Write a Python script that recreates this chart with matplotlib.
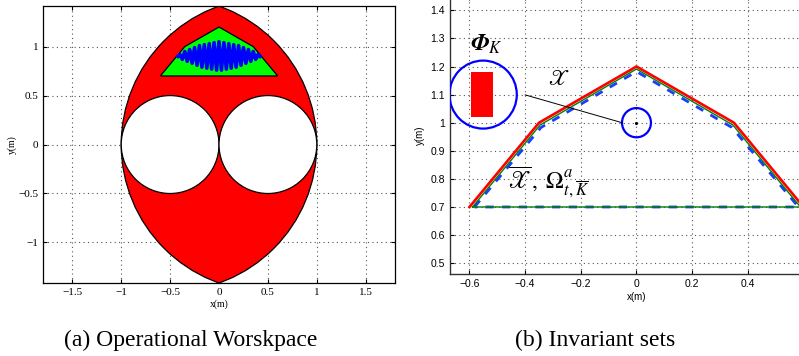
import numpy as np
import matplotlib
matplotlib.use('Agg')
import matplotlib.pyplot as plt
from matplotlib.patches import Circle, Polygon, Rectangle
from matplotlib.ticker import FuncFormatter

# 工作空间：两个半径1.5的圆相交，去掉两个半径0.5的圆
outer_centers = [(-0.5, 0.0), (0.5, 0.0)]
outer_r = 1.5
hole_centers = [(-0.5, 0.0), (0.5, 0.0)]
hole_r = 0.5

# 不变集多边形顶点
poly_x = [-0.6, -0.35, 0.0, 0.35, 0.6]
poly_y = [0.7, 1.0, 1.2, 1.0, 0.7]
green_x = [-0.589, -0.346, 0.0, 0.346, 0.589]
green_y = [0.7, 0.992, 1.191, 0.992, 0.7]
blue_x = [-0.582, -0.343, 0.0, 0.343, 0.582]
blue_y = [0.7, 0.983, 1.182, 0.983, 0.7]

# 轨迹（来回振荡）
traj_x = [-0.42, -0.40, -0.375, -0.35, -0.325, -0.30, -0.275, -0.25, -0.225, -0.20,
          -0.175, -0.15, -0.125, -0.10, -0.075, -0.05, -0.025, 0.0, 0.025, 0.05,
          0.075, 0.10, 0.125, 0.15, 0.175, 0.20, 0.225, 0.25, 0.275, 0.30,
          0.325, 0.35, 0.375, 0.40, 0.42]
traj_y = [0.90, 0.92, 0.87, 0.95, 0.85, 0.97, 0.83, 0.99, 0.81, 1.01,
          0.79, 1.02, 0.78, 1.03, 0.77, 1.04, 0.76, 1.05, 0.76, 1.04,
          0.77, 1.03, 0.78, 1.02, 0.79, 1.01, 0.81, 0.99, 0.83, 0.97,
          0.85, 0.95, 0.87, 0.92, 0.90]

left_xticks = [-1.5, -1, -0.5, 0, 0.5, 1, 1.5]
left_yticks = [-1, -0.5, 0, 0.5, 1]
right_xticks = [-0.6, -0.4, -0.2, 0, 0.2, 0.4]
right_yticks = [0.5, 0.6, 0.7, 0.8, 0.9, 1.0, 1.1, 1.2, 1.3, 1.4]

fmt = FuncFormatter(lambda v, p: ('%g' % v).replace('-', '\u2212'))

fig = plt.figure(figsize=(7.99, 3.56), dpi=100)

def grid_style(ax):
    ax.grid(True, color='#555555', linestyle=(0, (1, 3)), linewidth=0.8)
    ax.set_axisbelow(True)
    ax.tick_params(direction='in', length=3, top=True, right=True)

# ---------------- (a)
ax1 = fig.add_axes([0.0538, 0.205, 0.4406, 0.778])
ax1.set_xlim(-1.8, 1.8)
ax1.set_ylim(-np.sqrt(2), np.sqrt(2))
grid_style(ax1)

cA = Circle(outer_centers[0], outer_r, transform=ax1.transData)
cB = Circle(outer_centers[1], outer_r, transform=ax1.transData)
lensA = Circle(outer_centers[1], outer_r, facecolor='red', edgecolor='black', lw=0.9, zorder=2)
ax1.add_patch(lensA)
lensA.set_clip_path(cA)
lensB = Circle(outer_centers[0], outer_r, facecolor='none', edgecolor='black', lw=0.9, zorder=2)
ax1.add_patch(lensB)
lensB.set_clip_path(cB)
for c in hole_centers:
    ax1.add_patch(Circle(c, hole_r, facecolor='white', edgecolor='black', lw=0.9, zorder=3))
ax1.add_patch(Polygon(list(zip(poly_x, poly_y)), closed=True, facecolor='#00ff00',
                      edgecolor='black', lw=0.9, zorder=4))
ax1.plot(traj_x, traj_y, color='blue', lw=2.6, zorder=5)

ax1.set_xticks(left_xticks)
ax1.set_yticks(left_yticks)
ax1.xaxis.set_major_formatter(fmt)
ax1.yaxis.set_major_formatter(fmt)
for lab in ax1.get_xticklabels() + ax1.get_yticklabels():
    lab.set_fontfamily('Liberation Serif')
    lab.set_fontsize(8)
ax1.set_xlabel('x(m)', family='Liberation Serif', fontsize=7, labelpad=2)
ax1.set_ylabel('y(m)', family='Liberation Serif', fontsize=7, labelpad=1)
for s in ax1.spines.values():
    s.set_linewidth(0.9)

# ---------------- (b)
ax2 = fig.add_axes([0.5632, 0.2292, 0.4668, 0.7813])
ax2.set_xlim(-0.67, 0.67)
ax2.set_ylim(0.46, 1.45)
grid_style(ax2)
ax2.plot(poly_x, poly_y, color='red', lw=1.9, zorder=3)
ax2.plot(green_x + [green_x[0]], green_y + [green_y[0]], color='green', lw=1.0, zorder=4)
ax2.plot(blue_x + [blue_x[0]], blue_y + [blue_y[0]], color='#1a3cff', lw=2.0,
         linestyle=(0, (3, 3)), zorder=3.5)

ax2.add_patch(Circle((0.0, 1.0), 0.052, facecolor='none', edgecolor='blue', lw=1.6, zorder=5))
ax2.plot([0.0], [1.0], 'k.', ms=2.5, zorder=6)
ax2.plot([-0.40, -0.052], [1.099, 1.0], color='black', lw=0.7, zorder=5)
ax2.add_patch(Circle((-0.551, 1.1), 0.121, facecolor='none', edgecolor='blue', lw=1.6, zorder=5))
ax2.add_patch(Rectangle((-0.593, 1.02), 0.078, 0.16, facecolor='red', edgecolor='none', zorder=5))

matplotlib.rcParams['mathtext.fontset'] = 'stix'
ax2.text(-0.54, 1.28, r'$\mathbfit{\Phi}_{K}$', fontsize=17, ha='center', va='center')
ax2.text(-0.28, 1.155, r'$\mathscr{X}$', fontsize=16, ha='center', va='center')
ax2.text(-0.46, 0.765, r'$\overline{\mathscr{X}}\,,\;\Omega^{a}_{t,\overline{K}}$', fontsize=17,
         ha='left', va='baseline')

ax2.set_xticks(right_xticks)
ax2.set_yticks(right_yticks)
ax2.xaxis.set_major_formatter(fmt)
ax2.yaxis.set_major_formatter(fmt)
ax2.tick_params(labelsize=7.5)
for lab in ax2.get_xticklabels() + ax2.get_yticklabels():
    lab.set_fontfamily('Liberation Sans')
ax2.set_xlabel('x(m)', family='Liberation Sans', fontsize=7, labelpad=2)
ax2.set_ylabel('y(m)', family='Liberation Sans', fontsize=7, labelpad=4)
for s in ax2.spines.values():
    s.set_linewidth(1.0)
    s.set_color('#333333')

fig.text(191 / 799, 1 - 340 / 356, '(a) Operational Worskpace', family='Liberation Serif',
         fontsize=17, ha='center', va='center')
fig.text(595 / 799, 1 - 340 / 356, '(b) Invariant sets', family='Liberation Serif',
         fontsize=17, ha='center', va='center')

fig.savefig('out.png', dpi=100)
